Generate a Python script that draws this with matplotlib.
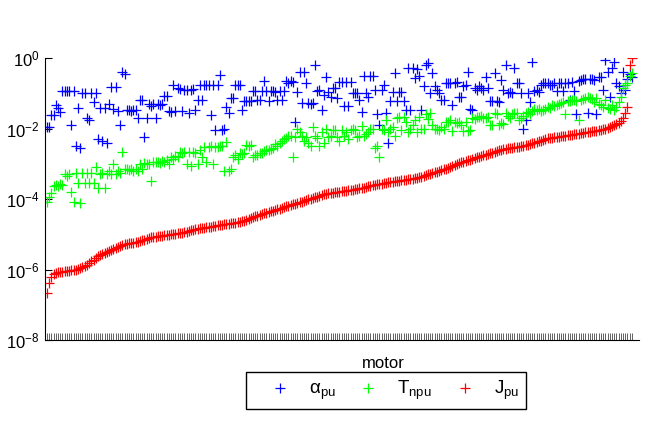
import matplotlib
matplotlib.use('Agg')
import numpy as np
import matplotlib.pyplot as plt
from matplotlib.ticker import NullLocator

plt.rcParams['font.family'] = ['Liberation Sans', 'DejaVu Sans']
plt.rcParams['mathtext.fontset'] = 'custom'
plt.rcParams['mathtext.rm'] = 'Liberation Sans'
plt.rcParams['mathtext.it'] = 'Liberation Sans:italic'
plt.rcParams['mathtext.default'] = 'regular'

# values as log10 exponents, one per motor (sorted by J_pu)
alpha_log = [
    -1.96, -1.96, -1.62, -1.62, -1.33, -1.42, -1.53, -0.94, -0.94, -0.94,
    -0.94, -1.9, -0.94, -2.5, -1.42, -2.55, -1.0, -1.0, -1.7, -1.75,
    -1.0, -1.25, -1.0, -2.3, -1.42, -2.35, -1.42, -2.4, -1.3, -0.82,
    -1.45, -0.82, -1.5, -1.9, -0.4, -0.45, -1.48, -1.48, -1.5, -1.48,
    -1.48, -1.7, -1.19, -1.2, -2.24, -1.7, -1.3, -1.35, -1.3, -1.7,
    -1.3, -1.32, -1.3, -1.08, -1.08, -1.5, -1.52, -0.75, -1.5, -0.85,
    -0.88, -1.5, -0.9, -0.9, -1.55, -0.9, -0.88, -1.48, -1.19, -0.77,
    -1.2, -0.77, -0.77, -0.77, -1.62, -0.77, -2.05, -0.77, -0.48, -2.05,
    -2.0, -1.4, -1.55, -1.12, -1.12, -0.77, -0.77, -0.77, -1.48, -1.22,
    -1.22, -1.22, -1.22, -0.93, -0.93, -1.19, -1.19, -0.93, -0.66, -0.93,
    -1.22, -0.93, -0.93, -0.95, -1.19, -0.93, -1.19, -0.93, -0.66, -0.7,
    -0.66, -0.68, -1.8, -0.97, -0.4, -1.28, -0.4, -0.72, -1.28, -1.3,
    -1.28, -0.2, -0.92, -0.9, -1.48, -1.05, -0.54, -0.95, -1.1, -0.85,
    -0.85, -1.13, -0.68, -0.68, -1.35, -0.68, -1.35, -0.68, -1.0, -1.0,
    -1.0, -1.2, -1.53, -0.5, -1.0, -1.1, -0.5, -0.5, -0.9, -1.6,
    -1.9, -0.9, -0.77, -1.55, -2.42, -1.22, -0.95, -0.43, -1.22, -0.95,
    -0.97, -1.22, -1.48, -0.28, -1.48, -0.28, -0.56, -0.3, -0.5, -1.48,
    -0.8, -0.2, -0.15, -1.0, -0.43, -0.8, -0.9, -1.0, -1.2, -1.2,
    -0.7, -0.72, -0.7, -1.33, -0.7, -0.68, -1.1, -1.1, -0.8, -0.75,
    -0.4, -1.45, -1.48, -0.85, -0.9, -0.8, -0.85, -0.9, -0.54, -0.85,
    -1.22, -1.22, -0.41, -1.22, -1.25, -0.62, -0.9, -0.2, -1.0, -0.95,
    -1.0, -0.28, -0.7, -0.72, -1.0, -2.0, -1.75, -1.0, -1.25, -0.1,
    -0.93, -0.9, -0.95, -0.75, -0.72, -0.72, -0.7, -0.77, -0.75, -0.72,
    -0.93, -0.72, -0.7, -0.93, -0.72, -0.7, -1.19, -0.68, -0.93, -1.6,
    -0.65, -0.62, -0.6, -0.6, -1.55, -0.6, -0.58, -0.62, -1.6, -0.55,
    -0.55, -0.9, -0.05, -0.4, -1.1, -0.28, -0.1, -0.7, -0.8, -1.0,
    -0.4, -0.9, -0.6, -0.45, -0.55,
]

tnpu_log = [
    -4.08, -3.95, -3.83, -3.63, -3.6, -3.63, -3.58, -3.6, -3.3, -3.35,
    -3.3, -3.8, -4.08, -3.27, -3.55, -4.1, -3.27, -3.55, -3.27, -3.55,
    -3.27, -3.55, -3.1, -3.7, -3.3, -3.25, -3.7, -3.3, -3.2, -3.3,
    -3.0, -3.3, -3.2, -3.25, -2.67, -3.15, -3.15, -3.18, -3.15, -3.2,
    -3.15, -3.2, -3.0, -3.15, -2.98, -3.0, -3.0, -3.5, -2.95, -2.95,
    -2.95, -2.97, -2.92, -2.95, -2.9, -3.0, -2.8, -2.85, -2.78, -2.8,
    -2.67, -2.7, -2.67, -3.0, -2.67, -3.05, -2.67, -2.7, -3.0, -2.6,
    -2.8, -2.52, -2.95, -2.52, -2.5, -3.0, -2.52, -2.52, -2.5, -2.5,
    -3.2, -2.38, -3.2, -3.15, -2.8, -2.75, -2.85, -2.7, -2.72, -2.68,
    -2.47, -2.5, -2.47, -2.8, -2.75, -2.75, -2.7, -2.7, -2.65, -2.62,
    -2.6, -2.58, -2.55, -2.45, -2.5, -2.4, -2.35, -2.3, -2.27, -2.22,
    -2.2, -2.8, -2.25, -2.0, -2.1, -2.22, -2.35, -2.24, -2.4, -2.5,
    -1.96, -2.2, -2.28, -2.5, -2.1, -2.4, -2.0, -2.25, -2.2, -2.04,
    -2.05, -2.25, -2.35, -2.04, -2.2, -2.1, -2.3, -2.05, -2.0, -2.04,
    -2.25, -2.2, -1.92, -2.2, -2.15, -2.1, -2.0, -2.0, -2.55, -2.5,
    -2.8, -2.0, -2.04, -1.76, -2.1, -2.0, -1.95, -2.2, -1.7, -1.67,
    -2.05, -1.67, -1.8, -2.1, -2.0, -1.9, -1.75, -2.1, -1.67, -2.0,
    -2.0, -1.6, -1.72, -1.55, -1.9, -2.0, -2.0, -2.05, -1.95, -2.0,
    -1.8, -1.8, -1.75, -2.06, -1.8, -1.85, -1.82, -1.9, -2.06, -1.8,
    -2.06, -2.04, -1.7, -1.72, -1.68, -1.66, -1.65, -1.7, -1.7, -1.68,
    -1.9, -1.9, -1.55, -1.6, -1.9, -1.85, -1.88, -1.57, -1.65, -1.7,
    -1.6, -1.55, -1.55, -1.75, -1.7, -1.65, -1.55, -1.52, -1.6, -1.5,
    -1.45, -1.48, -1.45, -1.5, -1.48, -1.45, -1.4, -1.42, -1.33, -1.36,
    -1.33, -1.3, -1.28, -1.25, -1.6, -1.22, -1.22, -1.2, -1.19, -1.22,
    -1.76, -1.18, -1.15, -1.12, -1.1, -1.12, -1.15, -1.25, -1.12, -1.3,
    -1.33, -1.4, -1.19, -1.42, -1.45, -1.33, -1.48, -1.4, -1.25, -1.1,
    -0.85, -0.77, -0.7, -0.5, -0.43,
]

jpu_log = [
    -6.67, -6.38, -6.2, -6.12, -6.1, -6.08, -6.07, -6.06, -6.05, -6.04,
    -6.03, -6.02, -6.01, -6.0, -5.98, -5.96, -5.93, -5.9, -5.86, -5.82,
    -5.77, -5.72, -5.67, -5.62, -5.58, -5.55, -5.52, -5.49, -5.47, -5.45,
    -5.42, -5.39, -5.36, -5.33, -5.3, -5.28, -5.27, -5.26, -5.25, -5.24,
    -5.23, -5.21, -5.19, -5.17, -5.15, -5.13, -5.11, -5.09, -5.08, -5.07,
    -5.06, -5.05, -5.04, -5.03, -5.02, -5.01, -5.0, -4.99, -4.98, -4.97,
    -4.96, -4.95, -4.94, -4.93, -4.91, -4.89, -4.87, -4.85, -4.84, -4.83,
    -4.82, -4.81, -4.8, -4.79, -4.78, -4.77, -4.76, -4.75, -4.74, -4.73,
    -4.72, -4.71, -4.7, -4.69, -4.68, -4.67, -4.66, -4.65, -4.63, -4.61,
    -4.59, -4.56, -4.53, -4.51, -4.49, -4.47, -4.45, -4.43, -4.41, -4.39,
    -4.37, -4.35, -4.33, -4.31, -4.29, -4.27, -4.25, -4.23, -4.21, -4.19,
    -4.17, -4.15, -4.13, -4.11, -4.09, -4.07, -4.05, -4.03, -4.01, -3.99,
    -3.97, -3.95, -3.93, -3.91, -3.89, -3.87, -3.85, -3.84, -3.83, -3.82,
    -3.81, -3.8, -3.79, -3.78, -3.77, -3.76, -3.75, -3.74, -3.73, -3.72,
    -3.71, -3.7, -3.69, -3.68, -3.66, -3.64, -3.62, -3.6, -3.59, -3.58,
    -3.57, -3.56, -3.55, -3.54, -3.53, -3.52, -3.51, -3.5, -3.49, -3.48,
    -3.47, -3.46, -3.45, -3.44, -3.43, -3.42, -3.41, -3.4, -3.38, -3.36,
    -3.34, -3.32, -3.3, -3.28, -3.26, -3.24, -3.22, -3.2, -3.18, -3.16,
    -3.14, -3.12, -3.1, -3.07, -3.04, -3.01, -2.98, -2.96, -2.94, -2.92,
    -2.9, -2.88, -2.86, -2.84, -2.82, -2.8, -2.78, -2.76, -2.74, -2.72,
    -2.7, -2.68, -2.66, -2.64, -2.62, -2.6, -2.58, -2.57, -2.56, -2.55,
    -2.54, -2.53, -2.52, -2.51, -2.5, -2.49, -2.48, -2.46, -2.44, -2.42,
    -2.4, -2.38, -2.36, -2.34, -2.32, -2.3, -2.28, -2.27, -2.26, -2.25,
    -2.24, -2.23, -2.22, -2.21, -2.2, -2.19, -2.18, -2.17, -2.16, -2.15,
    -2.14, -2.13, -2.12, -2.11, -2.1, -2.09, -2.08, -2.07, -2.06, -2.05,
    -2.04, -2.02, -2.0, -1.98, -1.96, -1.93, -1.9, -1.87, -1.83, -1.78,
    -1.7, -1.55, -1.4, -0.2, 0.0,
]

labels = [r'$\alpha_{pu}$', r'$T_{npu}$', r'$J_{pu}$']
colors = ['#0000ff', '#00ff00', '#ff0000']

motor = np.arange(1, len(jpu_log) + 1)
series = [10.0 ** np.array(alpha_log), 10.0 ** np.array(tnpu_log), 10.0 ** np.array(jpu_log)]

fig = plt.figure(figsize=(6.52, 4.37), dpi=100)
ax = fig.add_axes([0.069, 0.222, 0.911, 0.645])

for vals, lab, col in zip(series, labels, colors):
    ax.plot(motor, vals, '+', color=col, markersize=6.5, markeredgewidth=0.9, label=lab)

ax.set_yscale('log')
ax.set_ylim(1e-8, 1)
ax.set_yticks([1e-8, 1e-6, 1e-4, 1e-2, 1])
ax.yaxis.set_minor_locator(NullLocator())
ax.set_xlim(0.1, len(motor) + 3.2)
ax.set_xticks(motor)
ax.set_xticklabels([])

ax.tick_params(axis='x', direction='in', length=5, width=0.5, color='#222222')
ax.tick_params(axis='y', direction='in', length=5, width=0.8, labelsize=12, pad=4)
ax.spines['top'].set_visible(False)
ax.spines['right'].set_visible(False)

ax.set_xlabel('motor', fontsize=12)
ax.xaxis.set_label_coords(0.569, -0.058)

fig.legend(loc='center', bbox_to_anchor=(0.592, 0.1064), ncol=3, fontsize=13.5,
           frameon=True, fancybox=False, edgecolor='black', framealpha=1,
           handlelength=2.9, handletextpad=0.1, columnspacing=0.3, borderpad=0.35)

fig.savefig('out.png', dpi=100)
